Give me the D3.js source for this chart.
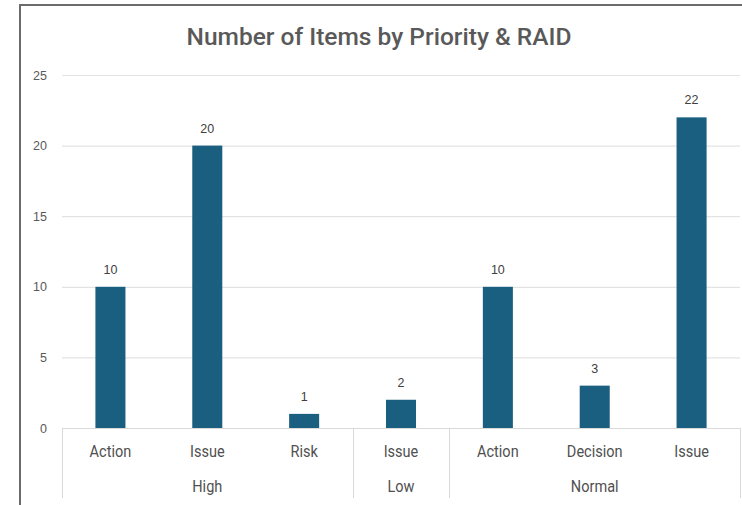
<!DOCTYPE html>
<html>
<head>
<meta charset="utf-8">
<script src="https://cdn.jsdelivr.net/npm/d3@7"></script>
<style>
  body { margin: 0; background: #fff; }
  svg text { font-family: "Liberation Sans", Arial, sans-serif; }
  svg text.narrow { font-family: Roboto, "DejaVu Sans Condensed", sans-serif; }
</style>
</head>
<body>
<svg width="742" height="505"></svg>
<script>
// chart data
const groups = ["High", "High", "High", "Low", "Normal", "Normal", "Normal"]
const categories = ["Action", "Issue", "Risk", "Issue", "Action", "Decision", "Issue"]
const values = [10, 20, 1, 2, 10, 3, 22]
const yTicks = [0, 5, 10, 15, 20, 25]

const svg = d3.select("svg"),
	width = +svg.attr("width"),
	height = +svg.attr("height");

const margin = { left: 62, right: 2, top: 75, bottom: 77 }
const x0 = margin.left, x1 = width - margin.right
const yBase = height - margin.bottom

// squeeze a text so it looks like a narrow font
const condense = function (sel, k) {
	sel.each(function () {
		const w = this.getComputedTextLength()
		d3.select(this).attr("textLength", w * k).attr("lengthAdjust", "spacingAndGlyphs")
	})
}

// frame
svg.append("path")
	.attr("d", `M20,${height} V5 H${width}`)
	.attr("fill", "none")
	.attr("stroke", "#6b6b6b")
	.attr("stroke-width", 2)

const x = d3.scaleBand()
	.domain(d3.range(values.length))
	.range([x0, x1])
	.paddingInner(0.69)
	.paddingOuter(0.345)

const y = d3.scaleLinear()
	.domain([0, 25])
	.range([yBase, margin.top])

// title
const title = svg.append("text")
	.attr("class", "narrow")
	.attr("x", 379)
	.attr("y", 45)
	.attr("text-anchor", "middle")
	.attr("font-size", 24)
	.attr("font-weight", 500)
	.attr("fill", "#595959")
	.text("Number of Items by Priority & RAID")
title.attr("textLength", 385).attr("lengthAdjust", "spacingAndGlyphs")

// gridlines + y labels
const yAxis = svg.append("g")
	.attr("transform", `translate(${x0},0)`)
	.call(d3.axisLeft(y).tickValues(yTicks).tickSize(-(x1 - x0)).tickPadding(15))
yAxis.select(".domain").remove()
yAxis.selectAll(".tick line").attr("stroke", "#e3e3e3").attr("stroke-width", 1.2)
yAxis.selectAll(".tick text")
	.attr("fill", "#595959")
	.attr("font-size", 12.5)
	.style("font-family", null)

// bars
svg.append("g")
	.selectAll("rect")
	.data(values)
	.join("rect")
	.attr("x", (d, i) => x(i))
	.attr("y", d => y(d))
	.attr("width", x.bandwidth())
	.attr("height", d => yBase - y(d))
	.attr("fill", "#1a5e80")

// value labels
svg.append("g")
	.selectAll("text")
	.data(values)
	.join("text")
	.attr("x", (d, i) => x(i) + x.bandwidth() / 2)
	.attr("y", d => y(d) - 13)
	.attr("text-anchor", "middle")
	.attr("font-size", 12.5)
	.attr("fill", "#404040")
	.text(d => d)

// category axis
const axisG = svg.append("g")
axisG.append("line")
	.attr("x1", x0).attr("x2", x1)
	.attr("y1", yBase + 0.5).attr("y2", yBase + 0.5)
	.attr("stroke", "#d9d9d9")

const step = x.step()
const slotLeft = i => x(i) - step * x.paddingInner() / 2

axisG.selectAll(".cat")
	.data(categories)
	.join("text")
	.attr("class", "cat narrow")
	.attr("x", (d, i) => x(i) + x.bandwidth() / 2)
	.attr("y", yBase + 29)
	.attr("text-anchor", "middle")
	.attr("font-size", 16.5)
	.attr("fill", "#505050")
	.text(d => d)
	.call(condense, 0.88)

// group spans
const groupNames = Array.from(new Set(groups))
const spans = groupNames.map(g => {
	const idx = groups.map((v, i) => v === g ? i : -1).filter(i => i >= 0)
	return { name: g, start: slotLeft(idx[0]), end: slotLeft(idx[idx.length - 1]) + step }
})

const seps = [spans[0].start].concat(spans.map(s => s.end))
axisG.selectAll(".sep")
	.data(seps)
	.join("line")
	.attr("class", "sep")
	.attr("x1", d => Math.round(d) + 0.5).attr("x2", d => Math.round(d) + 0.5)
	.attr("y1", yBase).attr("y2", yBase + 70)
	.attr("stroke", "#d9d9d9")

axisG.selectAll(".grp")
	.data(spans)
	.join("text")
	.attr("class", "grp narrow")
	.attr("x", d => (d.start + d.end) / 2)
	.attr("y", yBase + 64)
	.attr("text-anchor", "middle")
	.attr("font-size", 16.5)
	.attr("fill", "#505050")
	.text(d => d.name)
	.call(condense, 0.88)
</script>
</body>
</html>
